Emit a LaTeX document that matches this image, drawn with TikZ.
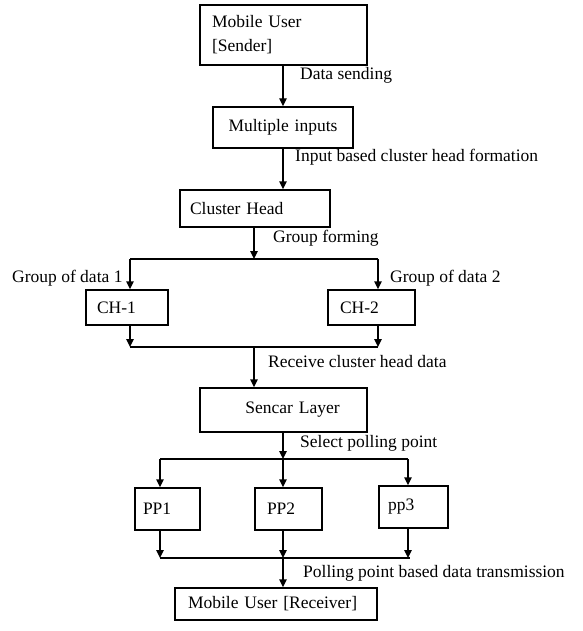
\documentclass[tikz,border=0pt]{standalone}
\usepackage{fontspec}
\setmainfont{Liberation Serif}
\usetikzlibrary{arrows.meta}

\begin{document}
\begin{tikzpicture}[x=1pt,y=-1pt,
		font=\fontsize{17.5}{24}\selectfont,
		blk/.style={draw=black, line width=1.4pt, rectangle, inner xsep=12pt, inner ysep=0pt, align=left},
		lbl/.style={anchor=west, inner sep=0pt},
		arr/.style={line width=1.4pt, -{Triangle[length=8pt,width=7.5pt]}},
		ln/.style={line width=1.4pt}
			]
	\useasboundingbox (0,0) rectangle (582,631);

	% boxes
	\node[blk, text width=143pt, minimum height=60pt] (snd) at (283.5,35) {Mobile User\\{[Sender]}};
	\node[blk, text width=116pt, minimum height=41pt, align=center] (inp) at (283,127.5) {Multiple inputs};
	\node[blk, inner xsep=10pt, text width=130pt, minimum height=37pt] (chd) at (255,208.5) {Cluster Head};
	\node[blk, inner xsep=11pt, text width=60pt, minimum height=35pt] (ch1) at (127,307.5) {CH-1};
	\node[blk, text width=63pt, minimum height=35pt] (ch2) at (371.5,307.5) {CH-2};
	\node[blk, text width=143pt, minimum height=44pt, align=center] (sen) at (283.5,410) {\hspace*{18pt}Sencar Layer};
	\node[blk, inner xsep=8pt, text width=49pt, minimum height=42pt] (pp1) at (167.5,509) {PP1};
	\node[blk, text width=43pt, minimum height=42pt] (pp2) at (288.5,509) {PP2};
	\node[blk, inner xsep=9pt, text width=51pt, minimum height=42pt] (pp3) at (413.5,507) {pp3};
	\node[blk, inner xsep=13pt, text width=176pt, minimum height=32pt] (rcv) at (276,604) {Mobile User [Receiver]};

	% junctions
	\coordinate (s1) at (254,259);
	\coordinate (g1) at (130,259);
	\coordinate (g2) at (378,259);
	\coordinate (m1) at (130,347);
	\coordinate (m2) at (378,347);
	\coordinate (s2) at (254,347);
	\coordinate (s3) at (283,459);
	\coordinate (p1) at (160,459);
	\coordinate (p3) at (408,459);
	\coordinate (q1) at (160,558);
	\coordinate (q2) at (283,558);
	\coordinate (q3) at (410,558);

	% connectors
	\draw[arr] (inp.north |- snd.south) -- (inp.north);
	\draw[arr] (inp.south) -- (inp.south |- chd.north);
	\draw[arr] (chd.south -| s1) -- (s1);
	\draw[ln] (g1) -- (g2);
	\draw[arr] (g1) -- (g1 |- ch1.north);
	\draw[arr] (g2) -- (g2 |- ch2.north);
	\draw[arr] (ch1.south -| m1) -- (m1);
	\draw[arr] (ch2.south -| m2) -- (m2);
	\draw[ln] (m1) -- (m2);
	\draw[arr] (s2) -- (s2 |- sen.north);
	\draw[arr] (sen.south -| s3) -- (s3);
	\draw[ln] (p1) -- (p3);
	\draw[arr] (p1) -- (p1 |- pp1.north);
	\draw[arr] (s3) -- (s3 |- pp2.north);
	\draw[arr] (p3) -- (p3 |- pp3.north);
	\draw[arr] (pp1.south -| q1) -- (q1);
	\draw[arr] (pp2.south -| q2) -- (q2);
	\draw[arr] (pp3.south -| p3) -- (p3 |- q3);
	\draw[ln] (q1) -- (q3);
	\draw[arr] (q2) -- (q2 |- rcv.north);

	% labels
	\node[lbl] (l1) at (300,75) {Data sending};
	\node[lbl] (l2) at (295,157) {Input based cluster head formation};
	\node[lbl] (l3) at (273,238) {Group forming};
	\node[lbl] (l4) at (12,278) {Group of data 1};
	\node[lbl] (l5) at (390,278) {Group of data 2};
	\node[lbl] (l6) at (268,362) {Receive cluster head data};
	\node[lbl] (l7) at (300,443) {Select polling point};
	\node[lbl] (l8) at (303,573) {Polling point based data transmission};
\end{tikzpicture}
\end{document}
